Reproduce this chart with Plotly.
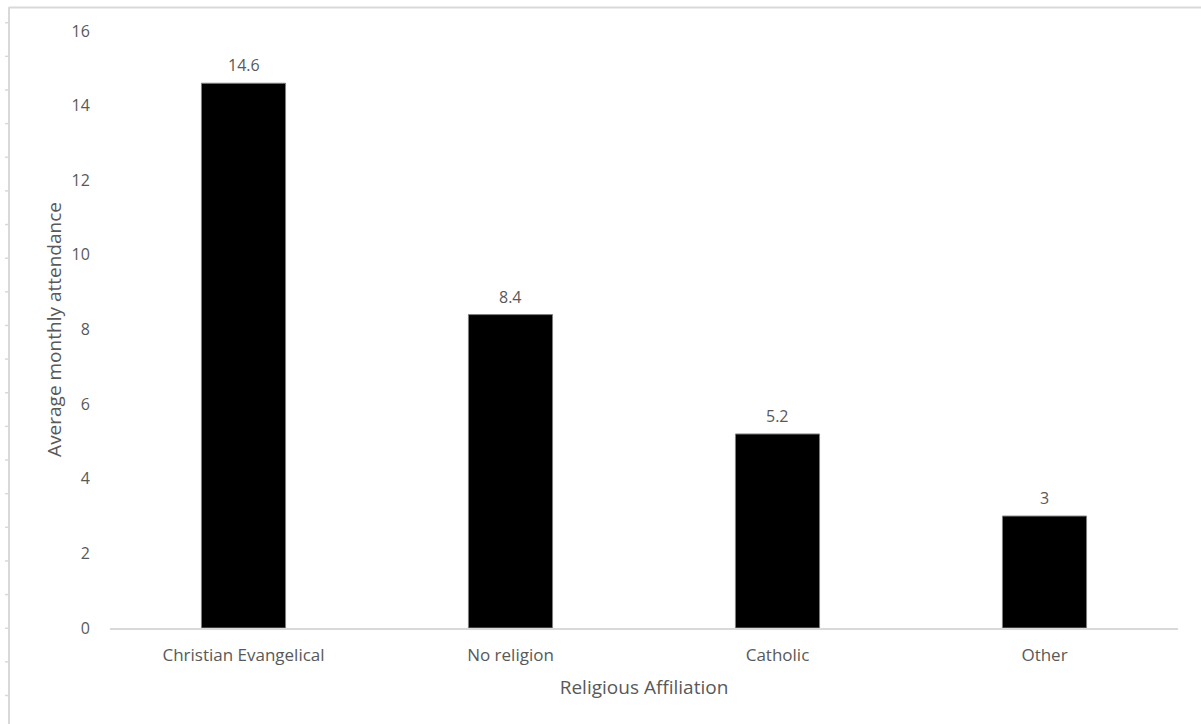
import plotly.graph_objects as go

# Average monthly attendance by religious affiliation
categories = ["Christian Evangelical", "No religion", "Catholic", "Other"]
attendance = [14.6, 8.4, 5.2, 3]
y_ticks = [0, 2, 4, 6, 8, 10, 12, 14, 16]

W, H = 1201, 724
ML, MR, MT, MB = 110, 23, 31, 96
PW, PH = W - ML - MR, H - MT - MB

FONT = "Open Sans, Lato, sans-serif"
TXT = "#595959"
FRAME = "#d9d9d9"


def px_x(p):
    return (p - ML) / PW


def px_y(p):
    return (H - MB - p) / PH


fig = go.Figure(
    go.Bar(
        x=categories,
        y=attendance,
        marker=dict(color="#000000", line=dict(color="#7f7f7f", width=1)),
        hoverinfo="x+y",
    )
)

# value labels above each bar
for c, v in zip(categories, attendance):
    fig.add_annotation(
        x=c, y=v, text=f"{v:g}", showarrow=False,
        yanchor="bottom", yshift=5,
        font=dict(family=FONT, size=16, color=TXT),
    )

# light sheet frame with small ruler ticks on the left edge
shapes = [
    dict(type="line", xref="paper", yref="paper",
         x0=px_x(9), x1=px_x(W + 5), y0=px_y(7.5), y1=px_y(7.5),
         line=dict(color=FRAME, width=2)),
    dict(type="line", xref="paper", yref="paper",
         x0=px_x(9), x1=px_x(9), y0=px_y(7), y1=px_y(H + 5),
         line=dict(color=FRAME, width=2)),
]
step = 33.64
for i in range(21):
    yy = 22.7 + i * step
    if yy > H:
        break
    shapes.append(dict(type="line", xref="paper", yref="paper",
                       x0=px_x(5), x1=px_x(9), y0=px_y(yy), y1=px_y(yy),
                       line=dict(color=FRAME, width=1.5)))

fig.update_layout(
    width=W, height=H,
    margin=dict(l=ML, r=MR, t=MT, b=MB, pad=0),
    paper_bgcolor="white", plot_bgcolor="white",
    bargap=0.685,
    showlegend=False,
    font=dict(family=FONT, size=16, color=TXT),
    shapes=shapes,
    xaxis=dict(
        showline=True, linecolor=FRAME, linewidth=1.5,
        showgrid=False, ticks="outside", ticklen=11, tickcolor="rgba(0,0,0,0)",
        tickfont=dict(family=FONT, size=17, color=TXT),
        title=dict(text="Religious Affiliation", standoff=16,
                   font=dict(family=FONT, size=19, color=TXT)),
    ),
    yaxis=dict(
        range=[0, 16], tickvals=y_ticks,
        showline=False, showgrid=False, zeroline=False,
        ticks="outside", ticklen=16, tickcolor="rgba(0,0,0,0)",
        tickfont=dict(family=FONT, size=16, color=TXT),
        title=dict(text="Average monthly attendance", standoff=4,
                   font=dict(family=FONT, size=19, color=TXT)),
    ),
)

fig.write_html("out.html")
